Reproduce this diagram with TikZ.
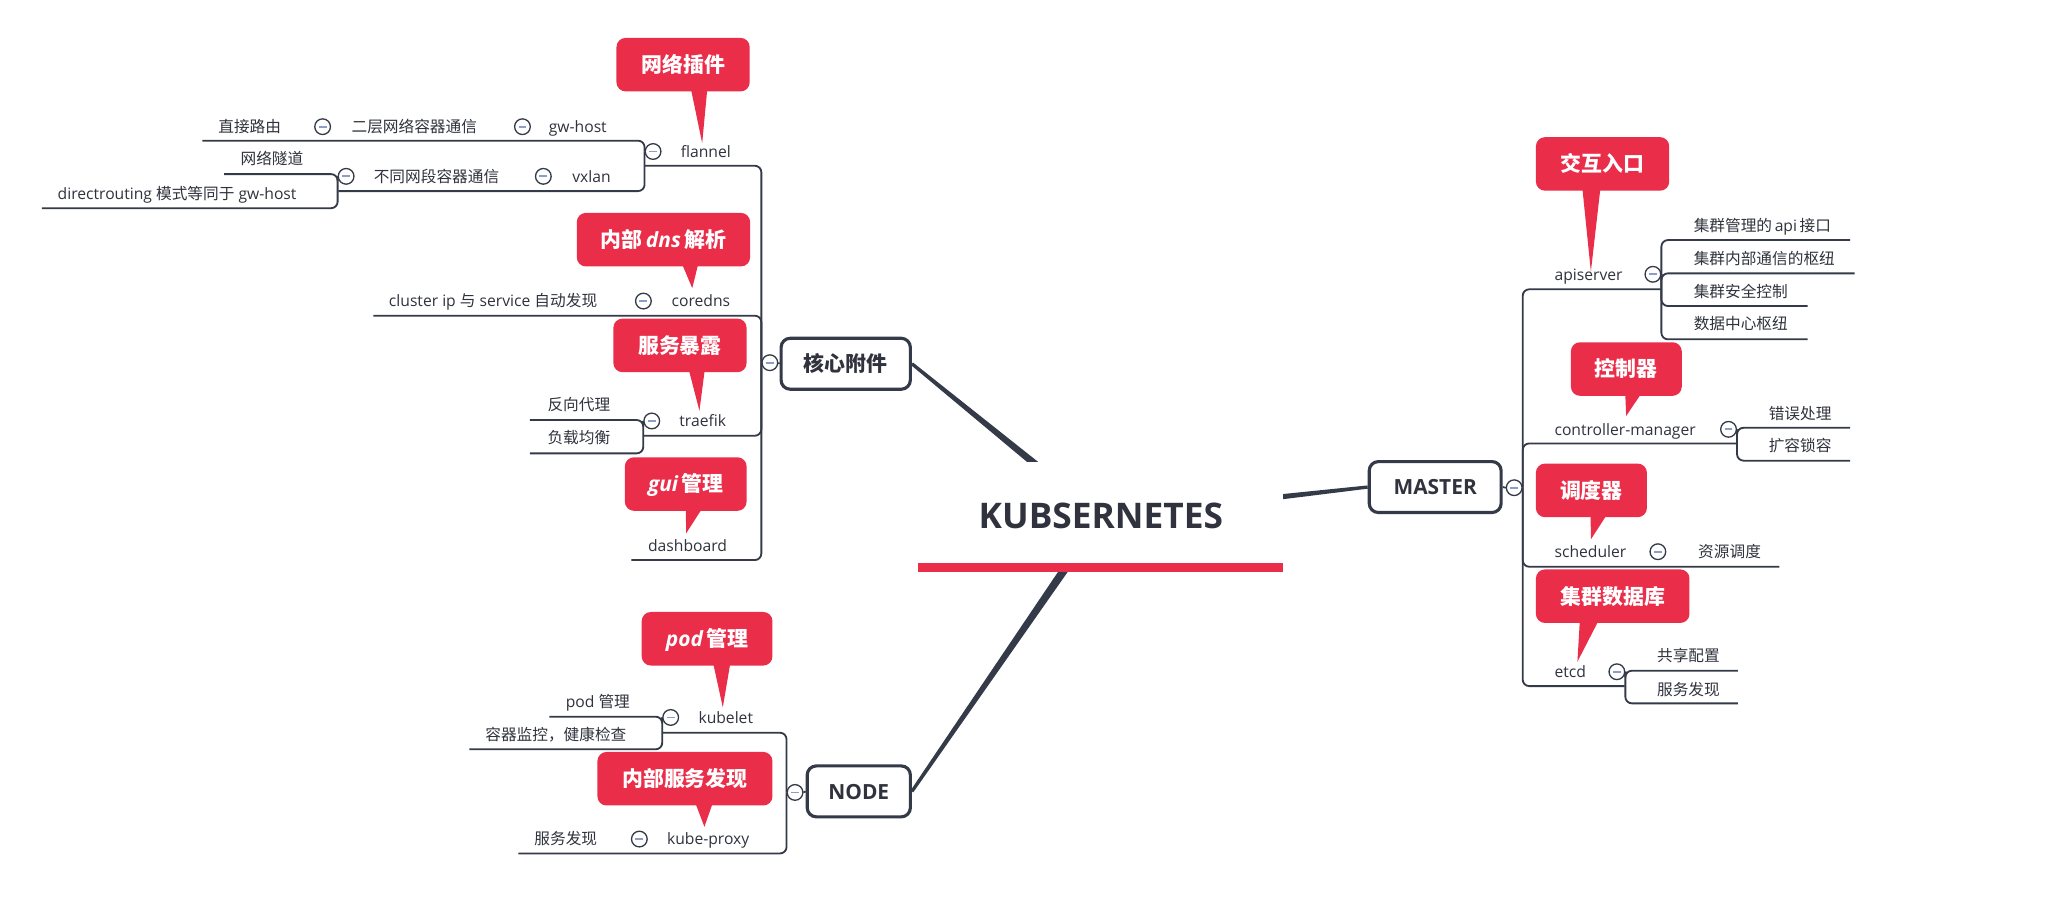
\documentclass[tikz,border=0pt]{standalone}
\usepackage{fontspec}
\setmainfont{Open Sans}
\newfontfamily\cjk{Noto Sans CJK SC}
\usetikzlibrary{calc}
\pgfdeclarelayer{background}
\pgfsetlayers{background,main}
\definecolor{dark}{HTML}{343A48}
\definecolor{txt}{HTML}{30333D}
\definecolor{calred}{HTML}{EA2E4A}
\definecolor{tglcol}{HTML}{8D9DC9}
\begin{document}
\begin{tikzpicture}[x=1pt,y=-1pt,
  lbl/.style={inner sep=0pt, anchor=base west, text=txt, font=\fontsize{12}{14}\selectfont},
  tog/.style={circle, draw=dark, line width=1pt, fill=white, minimum size=12pt, inner sep=0pt,
    path picture={\draw[tglcol, line width=1.3pt] ([xshift=-3pt]path picture bounding box.center) -- ([xshift=3pt]path picture bounding box.center);}},
  br/.style={draw=dark, line width=1.4pt, rounded corners=5pt},
  topic/.style={draw=dark, line width=2.4pt, rounded corners=7pt, fill=white, text=txt,
    font=\fontsize{16}{18}\selectfont\bfseries, text height=14pt, text depth=2pt, inner sep=0pt},
  callout/.style={fill=calred, rounded corners=7pt, text=white, minimum height=41pt,
    font=\fontsize{16}{18}\selectfont\bfseries, text height=14pt, text depth=2pt, inner sep=0pt},
  ptr/.style={fill=calred},
  taper/.style={fill=dark},
]
\useasboundingbox (0,0) rectangle (1568,693);

% ---------- central topic ----------
\node[fill=white, minimum width=279pt, minimum height=84pt, inner sep=0pt] (ctr) at (842.5,396) {};
\node[inner sep=0pt, anchor=base, text=txt, font=\fontsize{27}{30}\selectfont\bfseries] (title) at (842.8,405) {KUBSERNETES};
\fill[calred] (ctr.south west) rectangle ([yshift=7pt]ctr.south east);

% ---------- main topics ----------
\node[topic, minimum width=99pt, minimum height=39pt] (core) at (647.5,278.5) {\cjk 核心附件};
\node[topic, minimum width=79pt, minimum height=39pt] (nd) at (657.5,605.9) {NODE};
\node[topic, minimum width=101pt, minimum height=39pt] (master) at (1098.8,372.9) {MASTER};

% ---------- collapse circles ----------
\node[tog] (c-ec) at (247,97) {};
\node[tog] (c-gw) at (400,97) {};
\node[tog] (c-fl) at (500,116) {};
\node[tog] (c-vx) at (416,135) {};
\node[tog] (c-bt) at (265,135) {};
\node[tog] (c-cd) at (492.6,230.5) {};
\node[tog] (c-tr) at (499,322.3) {};
\node[tog] (c-kl) at (513.5,549.3) {};
\node[tog] (c-kp) at (489.5,642.4) {};
\node[tog] (c-core) at (589.4,277.7) {};
\node[tog] (c-node) at (608.7,606.7) {};
\node[tog] (c-master) at (1159.3,373.4) {};
\node[tog] (c-api) at (1265.5,210) {};
\node[tog] (c-cm) at (1323.4,328.7) {};
\node[tog] (c-sch) at (1269.3,422.4) {};
\node[tog] (c-etcd) at (1237.9,514.3) {};

% ---------- labels: left ----------
\node[lbl] (t-zj) at (167,101.4) {\cjk 直接路由};
\node[lbl] (t-ec) at (269,101.4) {\cjk 二层网络容器通信};
\node[lbl] (t-gw) at (420,101.4) {gw-host};
\node[lbl] (t-fl) at (521,120.4) {flannel};
\node[lbl] (t-sd) at (184,126.1) {\cjk 网络隧道};
\node[lbl] (t-bt) at (286,139.4) {\cjk 不同网段容器通信};
\node[lbl] (t-vx) at (438,139.4) {vxlan};
\node[lbl] (t-dr) at (44,153) {directrouting {\cjk 模式等同于} gw-host};
\node[lbl] (t-ci) at (297.6,234.9) {cluster ip {\cjk 与} service {\cjk 自动发现}};
\node[lbl] (t-cd) at (514,234.9) {coredns};
\node[lbl] (t-fx) at (419,314.4) {\cjk 反向代理};
\node[lbl] (t-fz) at (419,339.4) {\cjk 负载均衡};
\node[lbl] (t-tr) at (520,326.7) {traefik};
\node[lbl] (t-db) at (496,422.2) {dashboard};
\node[lbl] (t-pm) at (433,541.7) {pod {\cjk 管理}};
\node[lbl] (t-rq) at (371.4,566.7) {\cjk 容器监控，健康检查};
\node[lbl] (t-kl) at (534.6,553.7) {kubelet};
\node[lbl] (t-fw) at (409,646.8) {\cjk 服务发现};
\node[lbl] (t-kp) at (510.5,646.8) {kube-proxy};

% ---------- labels: right ----------
\node[lbl] (t-api) at (1190,214.4) {apiserver};
\node[lbl] (t-a1) at (1296.6,177.4) {{\cjk 集群管理的}\,api\,{\cjk 接口}};
\node[lbl] (t-a2) at (1296.6,202.2) {\cjk 集群内部通信的枢纽};
\node[lbl] (t-a3) at (1296.6,227.7) {\cjk 集群安全控制};
\node[lbl] (t-a4) at (1296.6,252.4) {\cjk 数据中心枢纽};
\node[lbl] (t-cm) at (1190,333.1) {controller-manager};
\node[lbl] (t-c1) at (1354,320.9) {\cjk 错误处理};
\node[lbl] (t-c2) at (1354,345.9) {\cjk 扩容锁容};
\node[lbl] (t-sch) at (1190,426.8) {scheduler};
\node[lbl] (t-s1) at (1300,426.8) {\cjk 资源调度};
\node[lbl] (t-etcd) at (1190,518.7) {etcd};
\node[lbl] (t-e1) at (1268.5,506.4) {\cjk 共享配置};
\node[lbl] (t-e2) at (1268.5,532.2) {\cjk 服务发现};

% ---------- callouts ----------
\node[callout, minimum width=102pt] (k1) at (523,49.5) {\cjk 网络插件};
\node[callout, minimum width=132.7pt] (k2) at (507.95,183.5) {{\cjk 内部}\,{\itshape dns}\,{\cjk 解析}};
\node[callout, minimum width=102pt] (k3) at (520.6,264.45) {\cjk 服务暴露};
\node[callout, minimum width=93.2pt] (k4) at (525,370.6) {{\itshape gui}\,{\cjk 管理}};
\node[callout, minimum width=100.1pt] (k5) at (541.35,489.05) {{\itshape pod}\,{\cjk 管理}};
\node[callout, minimum width=134pt] (k6) at (524.4,596.2) {\cjk 内部服务发现};
\node[callout, minimum width=102.1pt] (k7) at (1226.95,125.5) {\cjk 交互入口};
\node[callout, minimum width=84.9pt] (k8) at (1245.15,282.55) {\cjk 控制器};
\node[callout, minimum width=85pt] (k9) at (1218.4,375.45) {\cjk 调度器};
\node[callout, minimum width=117.6pt] (k10) at (1234.7,456.45) {\cjk 集群数据库};

\coordinate (p1) at (537.6,109.6);
\coordinate (p2) at (530,220.6);
\coordinate (p3) at (535.5,314.5);
\coordinate (p4) at (525.3,408.4);
\coordinate (p5) at (553.4,541.6);
\coordinate (p6) at (539.3,633);
\coordinate (p7) at (1218,208);
\coordinate (p8) at (1245,318.5);
\coordinate (p9) at (1218,413);
\coordinate (p10) at (1207.7,506.6);

\fill[ptr] ([xshift=57pt,yshift=3pt]k1.south west) -- ([xshift=69.8pt,yshift=3pt]k1.south west) -- (p1) -- cycle;
\fill[ptr] ([xshift=80.4pt,yshift=3pt]k2.south west) -- ([xshift=93.4pt,yshift=3pt]k2.south west) -- (p2) -- cycle;
\fill[ptr] ([xshift=57.7pt,yshift=3pt]k3.south west) -- ([xshift=70.3pt,yshift=3pt]k3.south west) -- (p3) -- cycle;
\fill[ptr] ([xshift=46.9pt,yshift=3pt]k4.south west) -- ([xshift=60pt,yshift=3pt]k4.south west) -- (p4) -- cycle;
\fill[ptr] ([xshift=54.7pt,yshift=3pt]k5.south west) -- ([xshift=68.2pt,yshift=3pt]k5.south west) -- (p5) -- cycle;
\fill[ptr] ([xshift=74.8pt,yshift=3pt]k6.south west) -- ([xshift=88.8pt,yshift=3pt]k6.south west) -- (p6) -- cycle;
\fill[ptr] ([xshift=35.7pt,yshift=3pt]k7.south west) -- ([xshift=49.7pt,yshift=3pt]k7.south west) -- (p7) -- cycle;
\fill[ptr] ([xshift=41.8pt,yshift=3pt]k8.south west) -- ([xshift=54.8pt,yshift=3pt]k8.south west) -- (p8) -- cycle;
\fill[ptr] ([xshift=42.1pt,yshift=3pt]k9.south west) -- ([xshift=55.1pt,yshift=3pt]k9.south west) -- (p9) -- cycle;
\fill[ptr] ([xshift=33.9pt,yshift=3pt]k10.south west) -- ([xshift=48.7pt,yshift=3pt]k10.south west) -- (p10) -- cycle;

% ---------- branch end points ----------
\coordinate (e-fl) at (494,126.9);
\coordinate (e-cd) at (285.8,241.7);
\coordinate (e-tr) at (493,333.6);
\coordinate (e-db) at (483.4,428.8);
\coordinate (e-gw) at (155,107.7);
\coordinate (e-vx) at (259,146.3);
\coordinate (e-sd) at (171.6,133.3);
\coordinate (e-dr) at (32,159.4);
\coordinate (e-fx) at (405.7,321.6);
\coordinate (e-fz) at (405.7,347.1);
\coordinate (e-pm) at (420.6,548.7);
\coordinate (e-rq) at (359.4,573.7);
\coordinate (e-kl) at (507.5,561);
\coordinate (e-kp) at (396.9,653.4);
\coordinate (e-api) at (1271.5,221.5);
\coordinate (e-cm) at (1329.4,339.5);
\coordinate (e-sch) at (1362.4,433.9);
\coordinate (e-etcd) at (1243.9,525.3);
\coordinate (e-a1) at (1416.5,183.8);
\coordinate (e-a2) at (1420,209.3);
\coordinate (e-a3) at (1383.9,234.3);
\coordinate (e-a4) at (1383.9,259.8);
\coordinate (e-c1) at (1416.5,327.5);
\coordinate (e-c2) at (1416.5,352.7);
\coordinate (e-t1) at (1330.5,513.5);
\coordinate (e-t2) at (1330.5,538.5);

\begin{pgfonlayer}{background}
\fill[white] (0,0) rectangle (1568,693);
% tapered main connectors
\fill[taper] ($(ctr.center)!3.5pt!90:(core.east)$) -- ($(core.east)!1.25pt!-90:(ctr.center)$) -- ($(core.east)!1.25pt!90:(ctr.center)$) -- ($(ctr.center)!3.5pt!-90:(core.east)$) -- cycle;
\fill[taper] ($(ctr.center)!3.5pt!90:(master.west)$) -- ($(master.west)!1.25pt!-90:(ctr.center)$) -- ($(master.west)!1.25pt!90:(ctr.center)$) -- ($(ctr.center)!3.5pt!-90:(master.west)$) -- cycle;
\fill[taper] ($(ctr.center)!3.5pt!90:(nd.east)$) -- ($(nd.east)!1.25pt!-90:(ctr.center)$) -- ($(nd.east)!1.25pt!90:(ctr.center)$) -- ($(ctr.center)!3.5pt!-90:(nd.east)$) -- cycle;
% topic to toggle
\draw[br] (core.west) -- (c-core.east);
\draw[br] (nd.west) -- (c-node.east);
\draw[br] (master.east) -- (c-master.west);
% core group
\draw[br] (c-core.west) |- (e-fl);
\draw[br] (c-core.west) |- (e-cd);
\draw[br] (c-core.west) |- (e-tr);
\draw[br] (c-core.west) |- (e-db);
% flannel group
\draw[br] (c-fl.west) |- (e-gw);
\draw[br] (c-fl.west) |- (e-vx);
% vxlan child group
\draw[br] (c-bt.west) |- (e-sd);
\draw[br] (c-bt.west) |- (e-dr);
% traefik group
\draw[br] (c-tr.west) |- (e-fx);
\draw[br] (c-tr.west) |- (e-fz);
% node group
\draw[br] (c-node.west) |- (e-kl);
\draw[br] (c-node.west) |- (e-kp);
% kubelet group
\draw[br] (c-kl.west) |- (e-pm);
\draw[br] (c-kl.west) |- (e-rq);
% master group
\draw[br] (c-master.east) |- (e-api);
\draw[br] (c-master.east) |- (e-cm);
\draw[br] (c-master.east) |- (e-sch);
\draw[br] (c-master.east) |- (e-etcd);
% apiserver group
\draw[br] (c-api.east) |- (e-a1);
\draw[br] (c-api.east) |- (e-a2);
\draw[br] (c-api.east) |- (e-a3);
\draw[br] (c-api.east) |- (e-a4);
% controller-manager group
\draw[br] (c-cm.east) |- (e-c1);
\draw[br] (c-cm.east) |- (e-c2);
% etcd group
\draw[br] (c-etcd.east) |- (e-t1);
\draw[br] (c-etcd.east) |- (e-t2);
\end{pgfonlayer}
\end{tikzpicture}
\end{document}
